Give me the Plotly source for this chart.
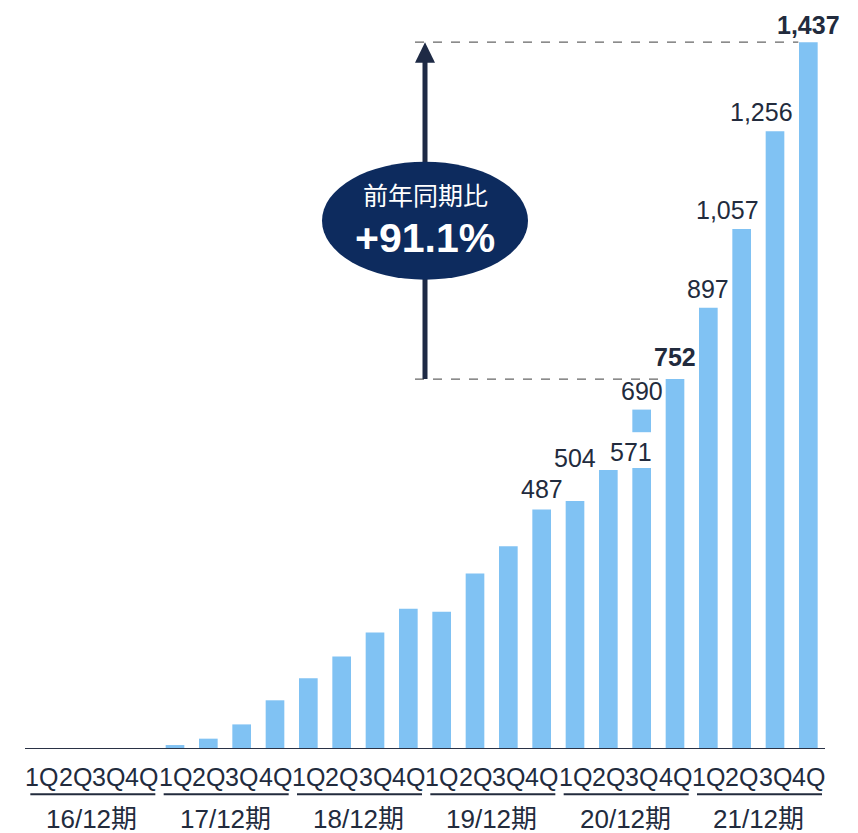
import plotly.graph_objects as go

# Quarterly series by fiscal year
fiscal_years = ["16/12期", "17/12期", "18/12期", "19/12期", "20/12期", "21/12期"]
quarters = ["1Q", "2Q", "3Q", "4Q"]
values = [0, 0, 0, 0,
          8, 21, 50, 99,
          144, 188, 237, 285,
          279, 357, 412, 487,
          504, 567, 571, 752,
          897, 1057, 1256, 1437]

# Additional segment on 20/12期 3Q (from 644 up to 690)
extra_index = 18
extra_base = 644
extra_top = 690

# Value labels: (bar index, value, bold)
label_points = [(15, 487, False), (16, 504, False), (18, 571, False),
                (18, 690, False), (19, 752, True), (20, 897, False),
                (21, 1057, False), (22, 1256, False), (23, 1437, True)]
# Label placement tweaks in pixels: (dx, dy)
label_offsets = {0: (0, 4), 1: (0, 27), 2: (-11, 0), 3: (0, 3), 4: (0, 6),
                 5: (0, 3), 6: (-14, 3), 7: (-14, 3), 8: (0, 1)}

yoy_text = "前年同期比"
yoy_value = "+91.1%"
compare_from = 19   # 20/12期 4Q
compare_to = 23     # 21/12期 4Q

BAR = "#80c2f3"
INK = "#222b3d"
NAVY = "#0d2b5e"
FONT = "Liberation Sans, Arial, Noto Sans CJK JP, sans-serif"

n = len(values)
xs = list(range(n))
tick_text = [quarters[i % 4] for i in xs]

fig = go.Figure()
fig.add_trace(go.Bar(x=xs, y=values, marker=dict(color=BAR, line=dict(width=0)),
                     width=0.56, hoverinfo="skip"))
fig.add_trace(go.Bar(x=[extra_index], y=[extra_top - extra_base], base=[extra_base],
                     marker=dict(color=BAR, line=dict(width=0)), width=0.56,
                     hoverinfo="skip"))

annotations = []
for k, (i, v, bold) in enumerate(label_points):
    dx, dy = label_offsets[k]
    txt = f"{v:,}"
    if bold:
        txt = f"<b>{txt}</b>"
    annotations.append(dict(x=i, y=v, xref="x", yref="y", text=txt, showarrow=False,
                            yanchor="bottom", xanchor="center", xshift=dx, yshift=dy,
                            font=dict(family=FONT, size=25, color=INK)))

# quarter labels under the axis
for i in xs:
    annotations.append(dict(x=i, y=0, xref="x", yref="y", text=tick_text[i],
                            showarrow=False, yanchor="middle", yshift=-28,
                            font=dict(family=FONT, size=25, color=INK)))

shapes = []
# fiscal year group lines and labels
for g, fy in enumerate(fiscal_years):
    shapes.append(dict(type="line", xref="x", yref="paper",
                       x0=g * 4 - 0.34, x1=g * 4 + 3.41, y0=-0.062, y1=-0.062,
                       line=dict(color=INK, width=2)))
    annotations.append(dict(x=g * 4 + 1.5, y=0, xref="x", yref="y", text=fy,
                            showarrow=False, yanchor="middle", yshift=-70,
                            font=dict(family=FONT, size=26, color=INK)))

# comparison guide lines
arrow_x = 11.5
y_from = values[compare_from]
y_to = values[compare_to]
shapes.append(dict(type="line", xref="x", yref="y", x0=arrow_x - 0.3, x1=compare_from - 0.3,
                   y0=y_from, y1=y_from, line=dict(color="#666666", width=1.2, dash="dash")))
shapes.append(dict(type="line", xref="x", yref="y", x0=arrow_x - 0.3, x1=compare_to - 0.3,
                   y0=y_to, y1=y_to, line=dict(color="#666666", width=1.2, dash="dash")))
# arrow shaft and head
shapes.append(dict(type="line", xref="x", yref="y", x0=arrow_x, x1=arrow_x,
                   y0=y_from, y1=y_to - 30, line=dict(color="#1e2a45", width=5)))
head_h = 42
head_w = 0.3
shapes.append(dict(type="path", xref="x", yref="y",
                   path=f"M {arrow_x - head_w},{y_to - head_h} L {arrow_x},{y_to} "
                        f"L {arrow_x + head_w},{y_to - head_h} Z",
                   fillcolor="#1e2a45", line=dict(width=0)))
# ellipse badge
shapes.append(dict(type="circle", xref="x", yref="y", x0=arrow_x - 3.09, x1=arrow_x + 3.09,
                   y0=954, y1=1194, fillcolor=NAVY, line=dict(width=0)))
annotations.append(dict(x=arrow_x, y=1074, xref="x", yref="y", text=yoy_text,
                        showarrow=False, yshift=25,
                        font=dict(family=FONT, size=25, color="white")))
annotations.append(dict(x=arrow_x, y=1074, xref="x", yref="y", text=f"<b>{yoy_value}</b>",
                        showarrow=False, yshift=-17,
                        font=dict(family=FONT, size=41, color="white")))

# baseline axis
shapes.append(dict(type="line", xref="paper", yref="y", x0=0, x1=1, y0=0, y1=0,
                   line=dict(color="#2a3245", width=2)))

fig.update_layout(
    width=858, height=833,
    margin=dict(l=25, r=33, t=20, b=84),
    paper_bgcolor="white", plot_bgcolor="white",
    showlegend=False, barmode="overlay",
    xaxis=dict(range=[-0.5, n - 0.5], showticklabels=False, showgrid=False,
               zeroline=False, showline=False, ticks=""),
    yaxis=dict(range=[0, 1482], showticklabels=False, showgrid=False,
               zeroline=False, showline=False, ticks=""),
    shapes=shapes, annotations=annotations,
)

fig.write_html("out.html")
